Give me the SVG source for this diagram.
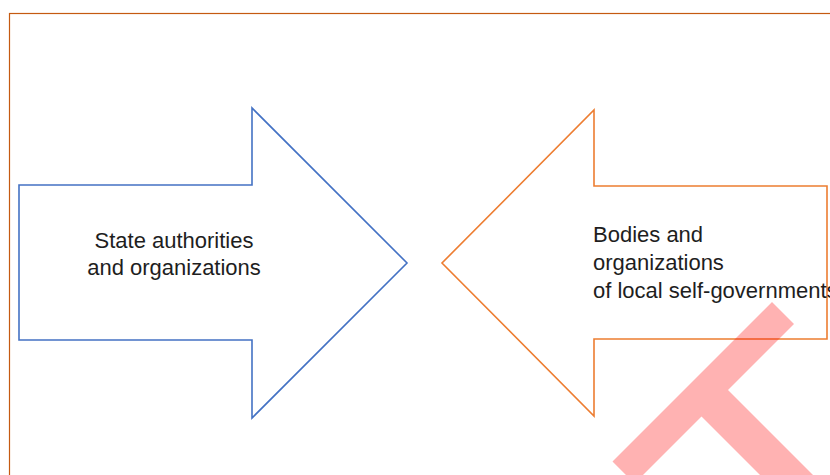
<svg xmlns="http://www.w3.org/2000/svg" width="830" height="475" viewBox="0 0 830 475">
  <style>
    .frame { fill: none; stroke: #c55a11; stroke-width: 1.2; }
    .arrow { fill: #ffffff; stroke-width: 1.6; stroke-linejoin: miter; }
    .blue { stroke: #4472c4; }
    .orange { stroke: #ed7d31; }
    .label { font-family: "Liberation Sans", Arial, sans-serif; font-size: 22px; fill: #1e1e1e; }
    .mark { fill: #ff0000; fill-opacity: 0.3; }
  </style>

  <rect width="830" height="475" fill="#ffffff"/>

  <!-- outer frame, running off the right and bottom edges -->
  <rect class="frame" x="9.5" y="13.5" width="840" height="480"/>

  <!-- left block arrow pointing right -->
  <g id="state-authorities">
    <polygon class="arrow blue" points="19,185 252,185 252,108 407,263 252,418 252,340 19,340"/>
    <text class="label" x="174" y="248" text-anchor="middle">State authorities</text>
    <text class="label" x="174" y="275" text-anchor="middle">and organizations</text>
  </g>

  <!-- right block arrow pointing left -->
  <g id="local-self-government">
    <polygon class="arrow orange" points="827,186 594,186 594,110 442,263 594,416 594,339 827,339"/>
    <text class="label" x="593" y="242">Bodies and</text>
    <text class="label" x="593" y="270">organizations</text>
    <text class="label" x="593" y="298">of local self-governments</text>
  </g>

  <!-- translucent red stamp in the lower right -->
  <polygon class="mark" points="772,302 794,324 728,390 848,510 795,510 701.5,416.5 634.5,483.5 612.5,461.5"/>
</svg>
